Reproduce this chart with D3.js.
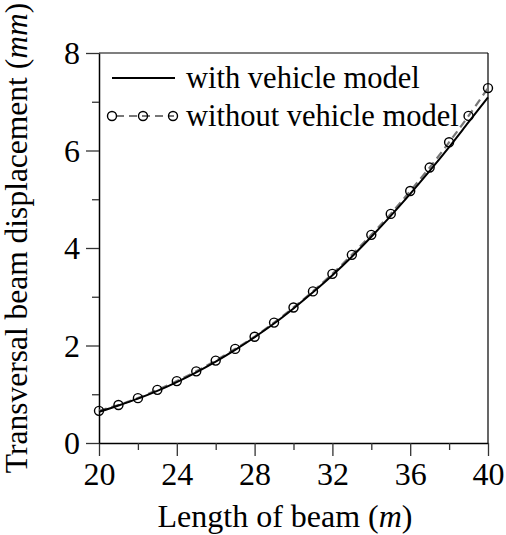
<!DOCTYPE html>
<html>
<head>
<meta charset="utf-8">
<script src="https://cdn.jsdelivr.net/npm/d3@7"></script>
<style>
  body { margin: 0; background: #fff; }
  svg text { font-family: "Liberation Serif", "Times New Roman", serif; fill: #000; }
</style>
</head>
<body>
<div id="svg-container"></div>
<script>
// data
var beamLength   = [20, 21, 22, 23, 24, 25, 26, 27, 28, 29, 30, 31, 32, 33, 34, 35, 36, 37, 38, 39, 40];
var withVehicle  = [0.64, 0.77, 0.91, 1.07, 1.25, 1.45, 1.67, 1.91, 2.17, 2.45, 2.76, 3.09, 3.44, 3.82, 4.23, 4.66, 5.11, 5.58, 6.07, 6.58, 7.09];
var without      = [0.66, 0.78, 0.92, 1.09, 1.27, 1.47, 1.69, 1.93, 2.18, 2.47, 2.78, 3.11, 3.47, 3.86, 4.27, 4.70, 5.17, 5.65, 6.17, 6.71, 7.28];
var xTicks       = [20, 24, 28, 32, 36, 40];
var xMinorTicks  = [22, 26, 30, 34, 38];
var yTicks       = [0, 2, 4, 6, 8];
var yMinorTicks  = [1, 3, 5, 7];
var legendLabels = ["with vehicle model", "without vehicle model"];

var svgWidth  = 506;
var svgHeight = 535;
var plotLeft = 99, plotRight = 488, plotTop = 53, plotBottom = 443;

var xScale = d3.scaleLinear().domain([20, 40]).range([plotLeft, plotRight]);
var yScale = d3.scaleLinear().domain([0, 8]).range([plotBottom, plotTop]);

var svg = d3.select("#svg-container")
            .append("svg")
            .attr("width", svgWidth)
            .attr("height", svgHeight);

// frame: top and right borders
svg.append("line")
    .attr("x1", plotLeft).attr("x2", plotRight)
    .attr("y1", plotTop).attr("y2", plotTop)
    .attr("stroke", "#000").attr("stroke-width", 1.2);
svg.append("line")
    .attr("x1", plotRight).attr("x2", plotRight)
    .attr("y1", plotTop).attr("y2", plotBottom)
    .attr("stroke", "#000").attr("stroke-width", 1.2);

// x axis
var xAxis = d3.axisBottom(xScale).tickValues(xTicks).tickSize(13).tickSizeOuter(0).tickFormat(d3.format("d"));
var xAxisGroup = svg.append("g")
    .attr("transform", "translate(0," + plotBottom + ")")
    .call(xAxis);
var xMinor = d3.axisBottom(xScale).tickValues(xMinorTicks).tickSize(7).tickFormat("");
svg.append("g")
    .attr("transform", "translate(0," + plotBottom + ")")
    .call(xMinor)
    .call(function(g) { g.select(".domain").remove(); });

// y axis
var yAxis = d3.axisLeft(yScale).tickValues(yTicks).tickSize(13).tickSizeOuter(0).tickFormat(d3.format("d"));
var yAxisGroup = svg.append("g")
    .attr("transform", "translate(" + plotLeft + ",0)")
    .call(yAxis);
var yMinor = d3.axisLeft(yScale).tickValues(yMinorTicks).tickSize(7).tickFormat("");
svg.append("g")
    .attr("transform", "translate(" + plotLeft + ",0)")
    .call(yMinor)
    .call(function(g) { g.select(".domain").remove(); });

svg.selectAll(".domain").attr("stroke", "#000").attr("stroke-width", 1.5);
svg.selectAll(".tick line").attr("stroke", "#333").attr("stroke-width", 1.3);
xAxisGroup.selectAll(".tick text")
    .attr("font-size", 32)
    .attr("y", 19)
    .attr("dy", "0.71em");
yAxisGroup.selectAll(".tick text")
    .attr("font-size", 32)
    .attr("x", -19)
    .attr("dy", "0.34em");

// axis titles
var xTitle = svg.append("text")
    .attr("x", 285)
    .attr("y", 527)
    .attr("text-anchor", "middle")
    .attr("font-size", 32);
xTitle.append("tspan").text("Length of beam (");
xTitle.append("tspan").attr("font-style", "italic").text("m");
xTitle.append("tspan").text(")");

var yTitle = svg.append("text")
    .attr("transform", "translate(27,238) rotate(-90)")
    .attr("text-anchor", "middle")
    .attr("font-size", 31.5);
yTitle.append("tspan").text("Transversal beam displacement (");
yTitle.append("tspan").attr("font-style", "italic").text("mm");
yTitle.append("tspan").text(")");

// series
var withData    = beamLength.map(function(d, i) { return [d, withVehicle[i]]; });
var withoutData = beamLength.map(function(d, i) { return [d, without[i]]; });

var line = d3.line()
    .x(function(d) { return xScale(d[0]); })
    .y(function(d) { return yScale(d[1]); })
    .curve(d3.curveMonotoneX);

svg.append("path")
    .datum(withoutData)
    .attr("d", line)
    .attr("fill", "none")
    .attr("stroke", "#777")
    .attr("stroke-width", 2.2)
    .attr("stroke-dasharray", "8,5");

svg.append("path")
    .datum(withData)
    .attr("d", line)
    .attr("fill", "none")
    .attr("stroke", "#000")
    .attr("stroke-width", 2);

svg.selectAll("circle.pt")
    .data(withoutData)
    .enter()
      .append("circle")
      .attr("class", "pt")
      .attr("cx", function(d) { return xScale(d[0]); })
      .attr("cy", function(d) { return yScale(d[1]); })
      .attr("r", 4.5)
      .attr("fill", "none")
      .attr("stroke", "#000")
      .attr("stroke-width", 1.4);

// legend
var legend = svg.append("g");
legend.append("line")
    .attr("x1", 112).attr("x2", 175)
    .attr("y1", 78).attr("y2", 78)
    .attr("stroke", "#000").attr("stroke-width", 2);
legend.append("line")
    .attr("x1", 112).attr("x2", 174)
    .attr("y1", 116).attr("y2", 116)
    .attr("stroke", "#777").attr("stroke-width", 2.2)
    .attr("stroke-dasharray", "8,5")
    .attr("stroke-dashoffset", -4);
legend.selectAll("circle")
    .data([112, 143, 173])
    .enter()
      .append("circle")
      .attr("cx", function(d) { return d; })
      .attr("cy", 116)
      .attr("r", 4.5)
      .attr("fill", "none")
      .attr("stroke", "#000")
      .attr("stroke-width", 1.4);
legend.selectAll("text")
    .data(legendLabels)
    .enter()
      .append("text")
      .attr("x", 186)
      .attr("y", function(d, i) { return 88 + i * 38; })
      .attr("font-size", 30.5)
      .text(function(d) { return d; });
</script>
</body>
</html>
